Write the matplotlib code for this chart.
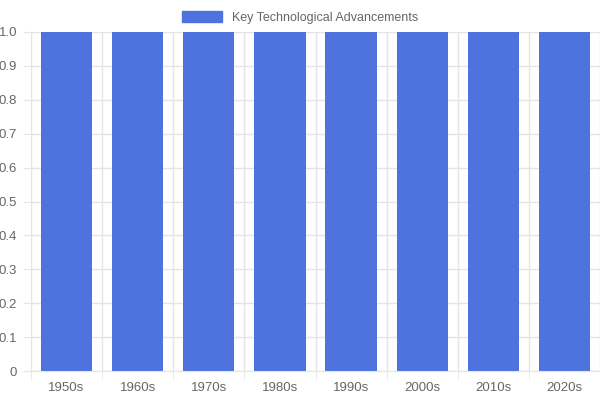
import matplotlib
matplotlib.use("Agg")
import matplotlib.pyplot as plt
from matplotlib.patches import Patch

plt.rcParams['font.family'] = ['Liberation Sans', 'DejaVu Sans']

decades = ["1950s", "1960s", "1970s", "1980s", "1990s", "2000s", "2010s", "2020s"]
values = [1, 1, 1, 1, 1, 1, 1, 1]
yticks = [0, 0.1, 0.2, 0.3, 0.4, 0.5, 0.6, 0.7, 0.8, 0.9, 1.0]
ylabels = ["0", "0.1", "0.2", "0.3", "0.4", "0.5", "0.6", "0.7", "0.8", "0.9", "1.0"]

fig = plt.figure(figsize=(6, 4), dpi=100)
ax = fig.add_axes([31/600, 29/400, 569/600, 339/400])
x = list(range(len(decades)))
color = '#4e73df'
ax.bar(x, values, width=0.72, color=color, zorder=2)
ax.set_xlim(-0.5, len(decades) - 0.5)
ax.set_ylim(0, 1.0)
ax.set_yticks(yticks)
ax.set_yticklabels(ylabels)
ax.set_xticks(x)
ax.set_xticklabels(decades)
ax.set_xticks([i - 0.5 for i in range(len(decades) + 1)], minor=True)
ax.grid(axis='y', color='#e5e5e5', linewidth=1, zorder=0)
ax.grid(axis='x', which='minor', color='#e5e5e5', linewidth=1, zorder=0)
ax.tick_params(axis='x', which='major', length=0, pad=8, labelsize=9.5, colors='#666666')
ax.tick_params(axis='x', which='minor', length=6, color='#e5e5e5')
ax.tick_params(axis='y', length=6, color='#e5e5e5', labelsize=9.5, colors='#666666', pad=4)
for s in ['top', 'right']:
    ax.spines[s].set_visible(False)
for s in ['left', 'bottom']:
    ax.spines[s].set_color('#e5e5e5')
fig.legend(handles=[Patch(color=color, label='Key Technological Advancements')],
           loc='upper center', bbox_to_anchor=(0.5, 1.0), frameon=False,
           fontsize=9, handlelength=3.2, handleheight=1.0, labelcolor='#666666')
fig.savefig('out.png', dpi=100)
